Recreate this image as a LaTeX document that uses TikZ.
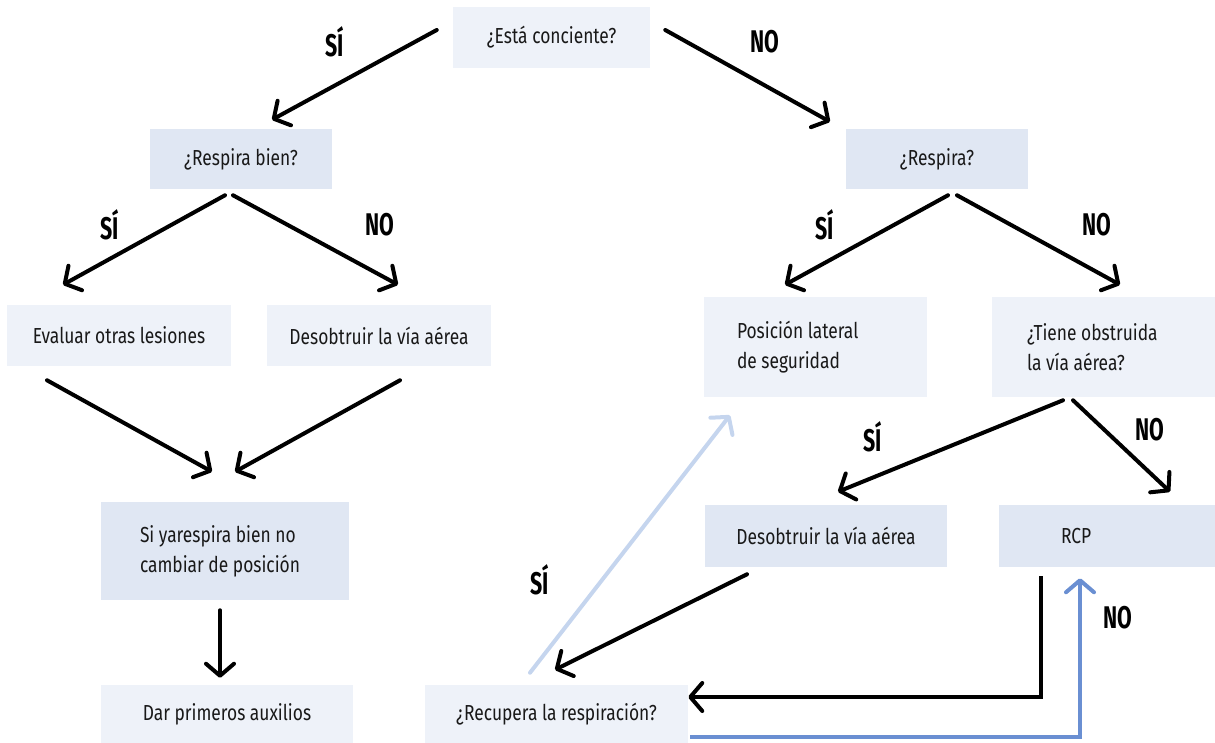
\documentclass[tikz,border=0pt]{standalone}
\usepackage{fontspec}
\setmainfont{Fira Sans}[FakeStretch=0.8]
\newfontfamily\labelfont{Fira Sans}[FakeStretch=0.68]
\usetikzlibrary{arrows.meta, calc}
\definecolor{boxlight}{HTML}{EEF2F9}
\definecolor{boxdark}{HTML}{E0E7F3}
\definecolor{arrowpale}{HTML}{C5D5EE}
\definecolor{arrowblue}{HTML}{6A8FD2}

\begin{document}
\begin{tikzpicture}[x = 0.75pt, y = -0.75pt]
\tikzstyle{BoxStyle}=[shape = rectangle,
                      inner sep = 0pt,
                      text = black!90,
                      font = \fontsize{16.3}{22.5}\selectfont]
\tikzstyle{EdgeStyle}=[line width = 3pt,
                       line cap = round,
                       -{Straight Barb[length = 9pt, width = 21pt, round]}]
\tikzstyle{LabelStyle}=[font = \labelfont\bfseries\fontsize{23.5}{23.5}\selectfont]
\useasboundingbox (0,0) rectangle (1215,743);
% boxes
\node[BoxStyle, fill = boxlight, minimum width = 147.75pt, minimum height = 45.75pt] (v0) at (551.5,37.5) {¿Está conciente?};
\node[BoxStyle, fill = boxdark, minimum width = 136.5pt, minimum height = 45pt] (v1) at (241,159) {¿Respira bien?};
\node[BoxStyle, fill = boxdark, minimum width = 136.5pt, minimum height = 45pt] (v2) at (937,159) {¿Respira?};
\node[BoxStyle, fill = boxlight, minimum width = 168pt, minimum height = 45.75pt] (v3) at (119,335.5) {Evaluar otras lesiones};
\node[BoxStyle, fill = boxlight, minimum width = 168pt, minimum height = 45.75pt] (v4) at (379,335.5) {Desobtruir la vía aérea};
\node[BoxStyle, fill = boxlight, text width = 117.75pt, inner xsep = 24.75pt, align = flush left, minimum height = 75pt] (v5) at (815.5,347) {Posición lateral\\de seguridad};
\node[BoxStyle, fill = boxlight, text width = 114.75pt, inner xsep = 26.25pt, align = flush left, minimum height = 75pt] (v6) at (1103.5,347) {¿Tiene obstruida\\la vía aérea?};
\node[BoxStyle, fill = boxdark, text width = 127.5pt, inner xsep = 29.25pt, align = flush left, minimum height = 73.5pt] (v7) at (225,551) {Si yarespira bien no\\cambiar de posición};
\node[BoxStyle, fill = boxlight, minimum width = 189pt, minimum height = 43.5pt] (v8) at (227,714) {Dar primeros auxilios};
\node[BoxStyle, fill = boxdark, minimum width = 181.5pt, minimum height = 46.5pt] (v9) at (826,536) {Desobtruir la vía aérea};
\node[BoxStyle, fill = boxdark, text width = 69pt, inner xsep = 46.5pt, align = flush left, minimum height = 46.5pt] (v10) at (1107,536) {RCP};
\node[BoxStyle, fill = boxlight, minimum width = 197.25pt, minimum height = 43.5pt] (v11) at (556.5,714) {¿Recupera la respiración?};
% answers
\node[LabelStyle] (l0) at (335,42) {SÍ};
\node[LabelStyle] (l1) at (765,42) {NO};
\node[LabelStyle] (l2) at (110,225) {SÍ};
\node[LabelStyle] (l3) at (380,225) {NO};
\node[LabelStyle] (l4) at (825,225) {SÍ};
\node[LabelStyle] (l5) at (1097,225) {NO};
\node[LabelStyle] (l6) at (873,437) {SÍ};
\node[LabelStyle] (l7) at (1150,430) {NO};
\node[LabelStyle] (l8) at (540,580) {SÍ};
\node[LabelStyle] (l9) at (1118,618) {NO};
% arrows
\draw[EdgeStyle] ($(v0.west)+(-16,-7.5)$) -- ($(v1.north)+(31,-9)$);
\draw[EdgeStyle] ($(v0.east)+(15,-7.5)$) -- ($(v2.north)+(-107,-7)$);
\draw[EdgeStyle] ($(v1.south)+(-16,6)$) -- ($(v3.north)+(-56,-20)$);
\draw[EdgeStyle] ($(v1.south)+(-8,6)$) -- ($(v4.north)+(19,-20)$);
\draw[EdgeStyle] ($(v2.south)+(11,6)$) -- ($(v5.north)+(-30.5,-12)$);
\draw[EdgeStyle] ($(v2.south)+(20,6)$) -- ($(v6.north)+(16.5,-12)$);
\draw[EdgeStyle] ($(v3.south)+(-72,14)$) -- ($(v7.north)+(-13,-30)$);
\draw[EdgeStyle] ($(v4.south)+(21,14)$) -- ($(v7.north)+(10,-30)$);
\draw[EdgeStyle] ($(v7.south)+(-5,10)$) -- ($(v8.north)+(-7,-7)$);
\draw[EdgeStyle] ($(v6.south)+(-40.5,3)$) -- ($(v9.north)+(12,-13)$);
\draw[EdgeStyle] ($(v6.south)+(-30.5,3)$) -- ($(v10.north)+(63,-13)$);
\draw[EdgeStyle] ($(v9.south)+(-79,7)$) -- ($(v11.north)+(-1.5,-15)$);
\draw[EdgeStyle, arrowpale] ($(v11.north)+(-26.5,-12)$) -- ($(v5.south)+(-85.5,18)$);
\draw[EdgeStyle, line cap = butt] ($(v10.south)+(-66,9)$) |- ($(v11.east)+(0,-17)$);
\draw[EdgeStyle, line cap = butt, arrowblue] ($(v11.east)+(2,23)$) -| ($(v10.south)+(-27,11)$);
\end{tikzpicture}
\end{document}
